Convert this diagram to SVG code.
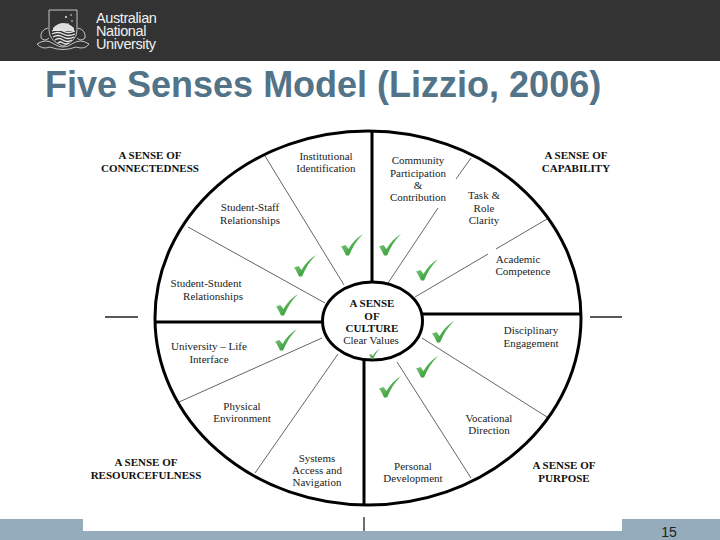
<svg xmlns="http://www.w3.org/2000/svg" width="720" height="540" viewBox="0 0 720 540">
  <style>
    .s{font-family:"Liberation Serif","Times New Roman",serif;font-size:11px;fill:#222;text-anchor:middle}
    .b{font-family:"Liberation Serif","Times New Roman",serif;font-size:11px;font-weight:bold;fill:#111;text-anchor:middle}
    .thick{fill:none;stroke:#000;stroke-width:3}
    .tick{fill:none;stroke:#222;stroke-width:1.3}
    .thin{fill:none;stroke:#222;stroke-width:.7}
    .logo{fill:none;stroke:#e8e8e8;stroke-width:.8}
    .lt{font-family:"Liberation Sans",Arial,sans-serif;font-size:14.500px;fill:#f0f0f0;letter-spacing:-.4px}
  </style>
  <defs>
    <linearGradient id="g" x1="0" y1="0" x2="1" y2="1">
      <stop offset="0" stop-color="#9bd49b"/>
      <stop offset=".6" stop-color="#45a845"/>
      <stop offset="1" stop-color="#2f8f3a"/>
    </linearGradient>
    <path id="c" d="M-11 1.500 L-6.500 0 L-3.500 4 C0 -2 5 -7.500 11 -11 C5 -5 0.500 2 -3 10.500 L-6 10.500 C-7.500 7 -9 4 -11 1.500Z" fill="url(#g)"/>
  </defs>
  <rect width="720" height="540" fill="#fff"/>
  <rect width="720" height="61" fill="#333"/>
  <rect x="0" y="531" width="720" height="9" fill="#94acbb"/>
  <rect x="0" y="519" width="83" height="12" fill="#94acbb"/>
  <rect x="622" y="519" width="98" height="12" fill="#94acbb"/>
  <g id="logo">
    <path class="logo" d="M49 10H77V30Q77 41 63 46Q49 41 49 30Z"/>
    <path d="M53 28Q63 18 74 28V31H53Z" fill="#ddd"/>
    <path class="logo" style="stroke-width:1.300" d="M52 31Q58 28 63 31T75 31M52 34Q58 31 63 34T75 34M53 37Q58 34 63 37T74 37M55 40Q59 37 63 40T72 40M58 43Q60 41 63 43T69 43"/>
    <path class="logo" d="M48 28Q40 30 41 38Q45 42 49 38M78 28Q86 30 85 38Q81 42 77 38M37 44Q46 38 54 44Q63 50 72 44Q80 38 89 44Q85 50 76 47Q63 52 50 47Q42 50 37 44Z"/>
    <g fill="#eee"><circle cx="66" cy="17" r="1"/><circle cx="71" cy="15" r=".8"/><circle cx="72" cy="21" r=".8"/><circle cx="68" cy="24" r=".8"/></g>
    <text class="lt"><tspan x="96" y="23">Australian</tspan><tspan x="96" y="36">National</tspan><tspan x="96" y="49">University</tspan></text>
  </g>
  <text id="title" x="45" y="97" font-family="'Liberation Sans',Arial,sans-serif" font-size="36" font-weight="bold" fill="#527388">Five Senses Model (Lizzio, 2006)</text>
  <g id="connectors">
    <path class="thick" d="M372 131V283M364 360V505M155 322H322M422 314H581"/>
    <path class="tick" d="M105 317H138M590 317H622M364 517V531"/>
    <path class="thin" d="M265 156L344 285M188 227L325 303M471 158L456 179M438 208L388 283M547 219L496 249M488 254L415 297M179 402L322 338M255 473L338 354M422 338L547 417M397 362L471 478"/>
  </g>
  <g id="wheel"><ellipse class="thick" cx="368" cy="318" rx="213" ry="187"/></g>
  <g id="center">
    <ellipse cx="372.500" cy="321" rx="50" ry="39" fill="#fff" stroke="#000" stroke-width="3"/>
    <text class="b" x="372" y="307">A SENSE</text>
    <text class="b" x="372" y="320">OF</text>
    <text class="b" x="372" y="332">CULTURE</text>
    <text class="s" x="371" y="344">Clear Values</text>
    <use href="#c" transform="translate(374.500,354) scale(.5)"/>
  </g>
  <g id="checks">
    <use href="#c" x="352" y="245"/>
    <use href="#c" x="390" y="245"/>
    <use href="#c" x="305" y="266"/>
    <use href="#c" x="427" y="270"/>
    <use href="#c" x="287" y="305"/>
    <use href="#c" x="286" y="340"/>
    <use href="#c" x="443" y="332"/>
    <use href="#c" x="427" y="367"/>
    <use href="#c" x="390" y="387"/>
  </g>
  <g id="n1"><text class="b" x="150" y="159">A SENSE OF</text><text class="b" x="150" y="172">CONNECTEDNESS</text></g>
  <g id="n2"><text class="b" x="576" y="159">A SENSE OF</text><text class="b" x="576" y="172">CAPABILITY</text></g>
  <g id="n3"><text class="b" x="146" y="466">A SENSE OF</text><text class="b" x="146" y="479">RESOURCEFULNESS</text></g>
  <g id="n4"><text class="b" x="564" y="469">A SENSE OF</text><text class="b" x="564" y="482">PURPOSE</text></g>
  <g id="l1"><text class="s" x="326" y="160">Institutional</text><text class="s" x="326" y="172">Identification</text></g>
  <g id="l2"><text class="s" x="250" y="211">Student-Staff</text><text class="s" x="250" y="224">Relationships</text></g>
  <g id="l3"><text class="s" x="206" y="287">Student-Student</text><text class="s" x="213" y="300">Relationships</text></g>
  <g id="l4"><text class="s" x="418" y="164">Community</text><text class="s" x="418" y="177">Participation</text><text class="s" x="418" y="189">&amp;</text><text class="s" x="418" y="201">Contribution</text></g>
  <g id="l5"><text class="s" x="484" y="199">Task &amp;</text><text class="s" x="484" y="212">Role</text><text class="s" x="484" y="224">Clarity</text></g>
  <g id="l6"><text class="s" x="518" y="263">Academic</text><text class="s" x="523" y="275">Competence</text></g>
  <g id="l7"><text class="s" x="531" y="334">Disciplinary</text><text class="s" x="531" y="347">Engagement</text></g>
  <g id="l8"><text class="s" x="209" y="350">University – Life</text><text class="s" x="209" y="363">Interface</text></g>
  <g id="l9"><text class="s" x="242" y="410">Physical</text><text class="s" x="242" y="422">Environment</text></g>
  <g id="l10"><text class="s" x="317" y="462">Systems</text><text class="s" x="317" y="474">Access and</text><text class="s" x="317" y="486">Navigation</text></g>
  <g id="l11"><text class="s" x="413" y="470">Personal</text><text class="s" x="413" y="482">Development</text></g>
  <g id="l12"><text class="s" x="489" y="422">Vocational</text><text class="s" x="489" y="434">Direction</text></g>
  <text id="page" x="669" y="537" font-family="'Liberation Sans',Arial,sans-serif" font-size="14" fill="#222" text-anchor="middle">15</text>
</svg>
